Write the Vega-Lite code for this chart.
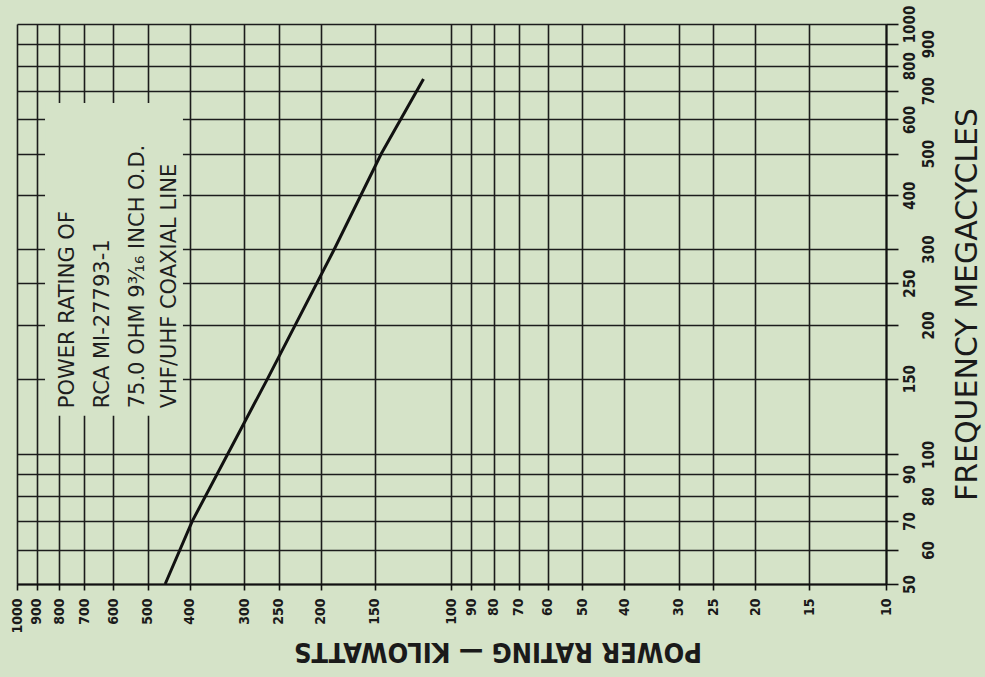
{
  "$schema": "https://vega.github.io/schema/vega-lite/v6.json",
  "width": 869,
  "height": 560,
  "autosize": {"type": "none"},
  "padding": {"left": 17, "top": 24, "right": 99, "bottom": 93},
  "background": "#d5e3c8",
  "config": {
    "view": {"stroke": null},
    "axis": {
      "gridColor": "#1c1c1c",
      "gridWidth": 1.6,
      "gridOpacity": 1,
      "domainColor": "#111111",
      "domainWidth": 2,
      "tickColor": "#111111",
      "tickWidth": 1.6,
      "labelColor": "#1a1a1a",
      "titleColor": "#1a1a1a",
      "labelFont": "DejaVu Sans Condensed, Liberation Sans Narrow, DejaVu Sans",
      "labelFontWeight": "bold",
      "labelFontSize": 14,
      "labelOverlap": false,
      "labelFlush": false
    }
  },
  "datasets": {
    "curve": [
      {"freq": 50, "power": 456},
      {"freq": 70, "power": 395},
      {"freq": 150, "power": 265},
      {"freq": 300, "power": 186},
      {"freq": 500, "power": 145},
      {"freq": 745, "power": 116}
    ],
    "mask": [
      {"power": 862, "power2": 415, "freq": 655, "freq2": 123}
    ],
    "notes": [
      {"power": 763, "freq": 128, "label": "POWER RATING OF"},
      {"power": 634, "freq": 128, "label": "RCA MI-27793-1"},
      {"power": 527, "freq": 128, "label": "75.0 OHM 9³⁄₁₆ INCH O.D."},
      {"power": 445, "freq": 128, "label": "VHF/UHF COAXIAL LINE"}
    ]
  },
  "encoding": {
    "x": {
      "field": "power",
      "type": "quantitative",
      "scale": {"type": "log", "domain": [10, 1000], "reverse": true, "nice": false},
      "axis": {
        "values": [10, 15, 20, 25, 30, 40, 50, 60, 70, 80, 90, 100, 150, 200, 250, 300, 400, 500, 600, 700, 800, 900, 1000],
        "format": "d",
        "grid": true,
        "labelAngle": -90,
        "labelAlign": "right",
        "labelBaseline": "middle",
        "tickSize": 6,
        "labelPadding": 8,
        "title": "POWER RATING — KILOWATTS",
        "titleFont": "DejaVu Sans Condensed, DejaVu Sans",
        "titleFontSize": 27,
        "titleFontWeight": "bold",
        "titleAngle": 180,
        "titleAlign": "center",
        "titleBaseline": "middle",
        "titleX": 480.5,
        "titleY": 66
      }
    },
    "y": {
      "field": "freq",
      "type": "quantitative",
      "scale": {"type": "log", "domain": [50, 1000], "nice": false},
      "axis": {
        "orient": "right",
        "values": [50, 60, 70, 80, 90, 100, 150, 200, 250, 300, 400, 500, 600, 700, 800, 900, 1000],
        "format": "d",
        "grid": true,
        "labelAngle": 270,
        "labelAlign": "center",
        "labelBaseline": "top",
        "labelFontSize": 15,
        "tickSize": 12,
        "labelPadding": {
          "condition": {"test": "indexof([900, 700, 500, 300, 200, 100, 80, 60], datum.value) >= 0", "value": 23},
          "value": 4
        },
        "title": "FREQUENCY MEGACYCLES",
        "titleFont": "DejaVu Sans",
        "titleFontSize": 30,
        "titleFontWeight": "normal",
        "titleAngle": 270,
        "titleAlign": "center",
        "titleBaseline": "middle",
        "titleX": 81,
        "titleY": 280
      }
    }
  },
  "layer": [
    {
      "data": {"name": "mask"},
      "mark": {"type": "rect", "fill": "#d5e3c8", "stroke": null},
      "encoding": {
        "x2": {"field": "power2"},
        "y2": {"field": "freq2"}
      }
    },
    {
      "data": {"name": "curve"},
      "mark": {"type": "line", "color": "#111111", "strokeWidth": 3},
      "encoding": {"order": {"field": "freq", "type": "quantitative"}}
    },
    {
      "data": {"name": "notes"},
      "mark": {
        "type": "text",
        "angle": -90,
        "align": "left",
        "baseline": "middle",
        "font": "DejaVu Sans",
        "fontSize": 21,
        "color": "#1e1e1e"
      },
      "encoding": {"text": {"field": "label"}}
    }
  ]
}
